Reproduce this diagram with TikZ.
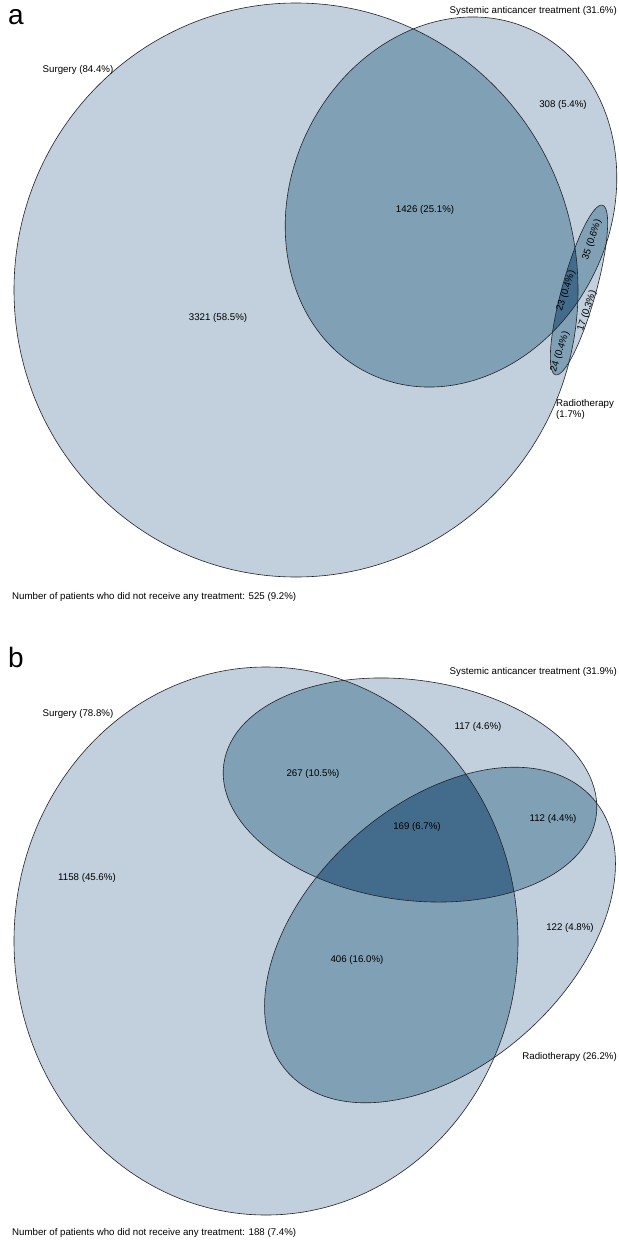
\documentclass[tikz,border=0pt]{standalone}
\usepackage{fontspec}
\setmainfont{Liberation Sans}
\definecolor{vlight}{RGB}{194,207,220}
\definecolor{vmid}{RGB}{128,160,181}
\definecolor{vdark}{RGB}{67,108,140}
\definecolor{vline}{RGB}{35,35,40}
\begin{document}
\begin{tikzpicture}[x=1pt,y=1pt,
  lbl/.style={font=\fontsize{9.7}{11.5}\selectfont, inner sep=0pt},
  panel/.style={font=\fontsize{28}{30}\selectfont, inner sep=0pt},
  outl/.style={draw=vline, line width=0.6pt}]
\useasboundingbox (0,0) rectangle (618,-1241);
\fill[white] (0,0) rectangle (618,-1241);

% ---------- panel a ----------
\def\SurgA{(296,-290) circle [x radius=282, y radius=287]}
\def\SysA{(451,-202) circle [x radius=160, y radius=190, rotate=-25]}
\def\RadA{(579,-290) circle [x radius=88, y radius=17, rotate=74.5]}
\fill[vlight] \SurgA; \fill[vlight] \SysA; \fill[vlight] \RadA;
\begin{scope}\clip \SurgA; \fill[vmid] \SysA; \fill[vmid] \RadA; \end{scope}
\begin{scope}\clip \SysA; \fill[vmid] \RadA; \end{scope}
\begin{scope}\clip \SurgA; \clip \SysA; \fill[vdark] \RadA; \end{scope}
\draw[outl] \SurgA; \draw[outl] \SysA; \draw[outl] \RadA;

\node[panel] (pa) at (16,-17) {a};
\node[lbl, anchor=east] (sysa) at (617,-11) {Systemic anticancer treatment (31.6\%)};
\node[lbl] (surga) at (78,-70) {Surgery (84.4\%)};
\node[lbl] (a308) at (563,-105) {308 (5.4\%)};
\node[lbl] (a1426) at (425,-210) {1426 (25.1\%)};
\node[lbl] (a3321) at (218,-318) {3321 (58.5\%)};
\node[lbl, rotate=72] (a35) at (592,-240) {35 (0.6\%)};
\node[lbl, rotate=72] (a23) at (566,-291) {23 (0.4\%)};
\node[lbl, rotate=72] (a17) at (587,-311) {17 (0.3\%)};
\node[lbl, rotate=72] (a24) at (560,-352) {24 (0.4\%)};
\node[lbl, anchor=north west, align=left] (rada) at (556,-399) {Radiotherapy\\(1.7\%)};
\node[lbl, anchor=west] (nonea) at (12,-597) {Number of patients who did not receive any treatment: 525 (9.2\%)};

% ---------- panel b ----------
\def\SurgB{(266,-941) circle [x radius=252, y radius=274]}
\def\SysB{(410,-790) circle [x radius=188, y radius=110, rotate=-8]}
\def\RadB{(440,-935) circle [x radius=205, y radius=130, rotate=42]}
\fill[vlight] \SurgB; \fill[vlight] \SysB; \fill[vlight] \RadB;
\begin{scope}\clip \SurgB; \fill[vmid] \SysB; \fill[vmid] \RadB; \end{scope}
\begin{scope}\clip \SysB; \fill[vmid] \RadB; \end{scope}
\begin{scope}\clip \SurgB; \clip \SysB; \fill[vdark] \RadB; \end{scope}
\draw[outl] \SurgB; \draw[outl] \SysB; \draw[outl] \RadB;

\node[panel] (pb) at (16,-657) {b};
\node[lbl, anchor=east] (sysb) at (617,-672) {Systemic anticancer treatment (31.9\%)};
\node[lbl] (surgb) at (78,-714) {Surgery (78.8\%)};
\node[lbl] (b117) at (478,-727) {117 (4.6\%)};
\node[lbl] (b267) at (313,-774) {267 (10.5\%)};
\node[lbl] (b112) at (553,-819) {112 (4.4\%)};
\node[lbl] (b169) at (417,-827) {169 (6.7\%)};
\node[lbl] (b1158) at (87,-878) {1158 (45.6\%)};
\node[lbl] (b122) at (570,-928) {122 (4.8\%)};
\node[lbl] (b406) at (357,-960) {406 (16.0\%)};
\node[lbl, anchor=east] (radb) at (617,-1057) {Radiotherapy (26.2\%)};
\node[lbl, anchor=west] (noneb) at (12,-1233) {Number of patients who did not receive any treatment: 188 (7.4\%)};
\end{tikzpicture}
\end{document}
